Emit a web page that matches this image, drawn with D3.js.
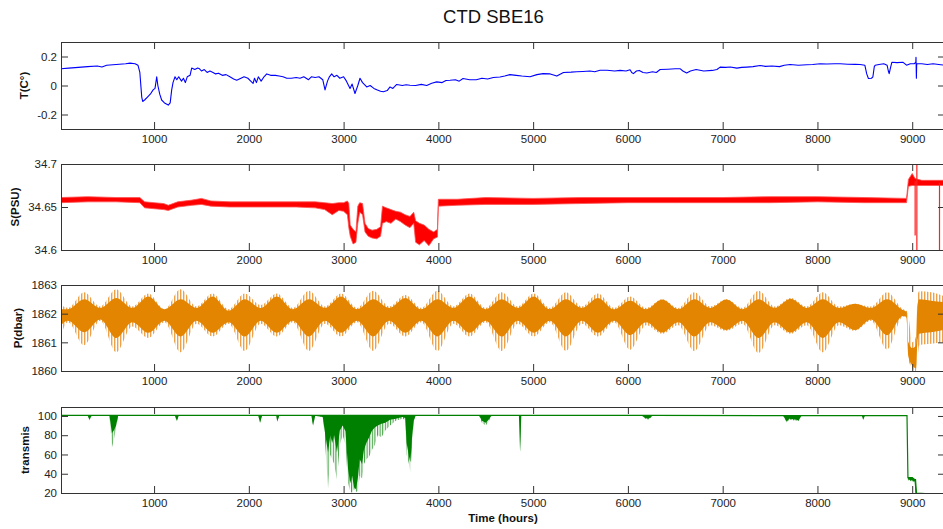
<!DOCTYPE html>
<html><head><meta charset="utf-8">
<script src="https://cdn.jsdelivr.net/npm/d3@7"></script>
<style>
body{margin:0;background:#fff}
svg{display:block}
text{font-family:"Liberation Sans",Arial,Helvetica,sans-serif}
</style>
</head><body>
<svg id="chart" width="943" height="529"></svg>
<script>
// ---------------- DATA ----------------
const chartTitle = "CTD SBE16";
const xLabel = "Time (hours)";
const panelLabels = ["T(C\u00B0)", "S(PSU)", "P(dbar)", "transmis"];
const xTicks = [1000, 2000, 3000, 4000, 5000, 6000, 7000, 8000, 9000];
const tempTicks = [-0.2, 0, 0.2];
const salTicks = [34.6, 34.65, 34.7];
const presTicks = [1860, 1861, 1862, 1863];
const transTicks = [20, 40, 60, 80, 100];

// Temperature (line)
const tempHours = [18,100,200,300,400,450,500,600,700,746,800,830,850,870,880,900,930,960,990,1010,1028,1040,1060,1080,1110,1150,1170,1186,1200,1221,1240,1260,1290,1310,1330,1350,1380,1397,1430,1460,1480,1500,1530,1560,1590,1622,1650,1680,1720,1760,1800,1840,1872,1900,1950,1990,2020,2045,2060,2080,2100,2130,2160,2189,2230,2280,2320,2361,2400,2450,2500,2540,2580,2630,2660,2700,2740,2780,2804,2830,2850,2874,2900,2930,2960,3000,3030,3068,3090,3120,3150,3173,3200,3244,3280,3320,3350,3390,3420,3460,3490,3520,3560,3620,3660,3700,3760,3820,3877,3930,3983,4040,4080,4124,4180,4220,4260,4330,4400,4460,4520,4580,4650,4700,4756,4820,4880,4967,5040,5105,5180,5250,5320,5400,5460,5525,5600,5650,5706,5780,5860,5918,5980,6023,6040,6058,6090,6120,6160,6200,6260,6300,6340,6420,6500,6550,6580,6620,6660,6720,6800,6890,6940,6973,7030,7080,7150,7200,7255,7320,7395,7450,7520,7600,7650,7712,7800,7888,7950,8028,8100,8180,8240,8320,8400,8450,8500,8520,8538,8570,8585,8600,8609,8650,8700,8735,8748,8757,8770,8785,8840,8904,8940,8980,9020,9038,9040,9044,9047,9050,9100,9160,9220,9280,9346];
const tempValues = [0.115,0.12,0.125,0.13,0.135,0.128,0.14,0.145,0.15,0.154,0.15,0.14,0.09,-0.08,-0.11,-0.10,-0.08,-0.06,-0.03,-0.02,0.06,0.0,-0.06,-0.10,-0.12,-0.135,-0.12,-0.03,0.02,0.06,0.04,0.06,0.03,0.05,0.02,0.06,0.07,0.12,0.11,0.12,0.115,0.10,0.11,0.09,0.10,0.09,0.08,0.085,0.07,0.075,0.06,0.045,0.036,0.045,0.06,0.05,0.03,0.014,0.05,0.02,0.06,0.03,0.06,0.08,0.07,0.07,0.065,0.06,0.05,0.05,0.055,0.05,0.06,0.04,0.06,0.055,0.06,0.04,-0.03,0.03,0.06,0.08,0.06,0.07,0.05,0.06,0.03,-0.02,0.01,-0.055,0.0,0.05,0.02,-0.01,0.0,-0.02,-0.03,-0.04,-0.043,-0.035,-0.01,-0.02,0.007,0.0,0.005,0.002,0.0,0.008,0.0,0.015,0.025,0.02,0.035,0.036,0.04,0.03,0.048,0.04,0.04,0.05,0.045,0.055,0.059,0.065,0.075,0.07,0.065,0.06,0.075,0.082,0.08,0.065,0.09,0.092,0.095,0.097,0.1,0.095,0.105,0.105,0.1,0.104,0.1,0.109,0.09,0.082,0.1,0.104,0.09,0.086,0.095,0.09,0.11,0.112,0.115,0.116,0.1,0.086,0.1,0.11,0.1,0.104,0.11,0.127,0.125,0.128,0.12,0.125,0.127,0.13,0.138,0.132,0.135,0.13,0.14,0.145,0.14,0.143,0.145,0.15,0.148,0.15,0.15,0.147,0.146,0.145,0.14,0.08,0.048,0.05,0.06,0.13,0.14,0.145,0.15,0.14,0.1,0.082,0.12,0.16,0.158,0.16,0.14,0.15,0.15,0.16,0.195,0.05,0.14,0.15,0.15,0.145,0.15,0.145,0.14];

// Salinity (noise band: low / high)
const salHours = [18,300,600,850,900,1000,1100,1150,1250,1400,1500,1600,1800,2000,2200,2500,2700,2800,2880,2950,3000,3040,3055,3070,3100,3130,3150,3170,3200,3226,3260,3300,3350,3390,3410,3450,3500,3550,3600,3650,3700,3740,3760,3800,3850,3900,3950,3990,4000,4200,4500,5000,5500,6000,6500,7000,7500,8000,8500,8940,8960,9000,9030,9100,9300,9346];
const salLow  = [34.655,34.656,34.656,34.655,34.649,34.648,34.647,34.646,34.650,34.652,34.653,34.651,34.650,34.650,34.650,34.650,34.649,34.647,34.641,34.646,34.645,34.641,34.626,34.616,34.607,34.609,34.631,34.644,34.641,34.621,34.616,34.614,34.613,34.616,34.631,34.633,34.631,34.636,34.633,34.629,34.626,34.631,34.609,34.606,34.611,34.605,34.613,34.615,34.651,34.652,34.653,34.653,34.654,34.655,34.655,34.655,34.655,34.656,34.655,34.655,34.674,34.675,34.675,34.675,34.675,34.675];
const salHigh = [34.661,34.662,34.661,34.661,34.656,34.655,34.654,34.652,34.656,34.658,34.660,34.657,34.656,34.656,34.656,34.656,34.656,34.655,34.654,34.655,34.655,34.657,34.654,34.629,34.624,34.621,34.651,34.655,34.654,34.631,34.625,34.623,34.624,34.627,34.651,34.649,34.647,34.645,34.644,34.641,34.639,34.644,34.634,34.631,34.629,34.624,34.621,34.624,34.659,34.659,34.661,34.660,34.661,34.661,34.661,34.661,34.662,34.662,34.661,34.660,34.682,34.689,34.683,34.681,34.681,34.681];
const salSpikeHours = [9031, 9049, 9288];
const salSpikeLow = [34.617, 34.59, 34.59];
const salSpikeHigh = [34.680, 34.71, 34.678];

// Pressure (tidal envelope: outer extremes and dense core)
const presHours = [18,91,262,432,601,770,940,1110,1280,1448,1617,1786,1956,2125,2295,2464,2634,2803,2973,3142,3312,3481,3651,3820,3990,4159,4329,4498,4668,4837,5006,5176,5345,5515,5684,5854,6023,6192,6362,6531,6701,6870,7040,7209,7379,7548,7718,7887,8057,8226,8396,8565,8735,8904,8940,8960,9000,9040,9055,9074,9200,9346];
const presOuterHigh = [1862.30,1862.20,1862.75,1862.25,1862.85,1862.25,1862.70,1862.15,1862.85,1862.25,1862.70,1862.15,1862.70,1862.30,1862.70,1862.20,1862.80,1862.25,1862.70,1862.20,1862.80,1862.25,1862.65,1862.20,1862.80,1862.25,1862.70,1862.20,1862.75,1862.25,1862.70,1862.20,1862.75,1862.25,1862.70,1862.20,1862.60,1862.20,1862.50,1862.20,1862.75,1862.25,1862.50,1862.20,1862.80,1862.25,1862.55,1862.25,1862.75,1862.25,1862.35,1862.25,1862.75,1862.15,1862.10,1861.90,1861.00,1861.20,1862.60,1862.78,1862.75,1862.60];
const presOuterLow = [1861.25,1861.70,1860.90,1861.75,1860.65,1861.55,1861.15,1861.70,1860.65,1861.65,1861.20,1861.65,1860.70,1861.65,1861.20,1861.70,1860.70,1861.65,1861.20,1861.70,1860.70,1861.65,1861.20,1861.70,1860.70,1861.65,1861.20,1861.70,1860.70,1861.65,1861.20,1861.70,1860.70,1861.65,1861.20,1861.70,1860.74,1861.60,1861.30,1861.60,1860.70,1861.60,1861.40,1861.65,1860.63,1861.60,1861.30,1861.60,1860.65,1861.60,1861.40,1861.75,1860.75,1861.90,1861.85,1860.40,1860.10,1860.00,1860.40,1860.90,1860.95,1861.00];
const presCoreHigh = [1862.15,1862.15,1862.50,1862.20,1862.55,1862.20,1862.60,1862.15,1862.50,1862.20,1862.60,1862.10,1862.50,1862.20,1862.60,1862.15,1862.50,1862.20,1862.60,1862.15,1862.50,1862.20,1862.55,1862.15,1862.50,1862.20,1862.60,1862.15,1862.50,1862.20,1862.60,1862.15,1862.50,1862.20,1862.55,1862.15,1862.45,1862.15,1862.49,1862.15,1862.50,1862.20,1862.49,1862.15,1862.50,1862.20,1862.52,1862.20,1862.50,1862.20,1862.35,1862.20,1862.50,1862.12,1862.07,1861.00,1860.80,1860.90,1862.30,1862.50,1862.45,1862.40];
const presCoreLow = [1861.60,1861.75,1861.35,1861.80,1861.15,1861.70,1861.33,1861.75,1861.20,1861.75,1861.33,1861.70,1861.20,1861.75,1861.33,1861.75,1861.20,1861.75,1861.33,1861.75,1861.20,1861.75,1861.33,1861.75,1861.20,1861.75,1861.33,1861.75,1861.20,1861.75,1861.33,1861.75,1861.20,1861.75,1861.33,1861.75,1861.25,1861.70,1861.34,1861.70,1861.20,1861.70,1861.43,1861.75,1861.15,1861.70,1861.34,1861.70,1861.15,1861.70,1861.43,1861.80,1861.25,1861.92,1861.88,1860.50,1860.20,1860.10,1861.00,1861.30,1861.35,1861.45];

// Transmissometer (top of trace, dense low, extreme low)
const transHours = [18,300,320,340,530,555,575,600,620,1220,1240,1260,2100,2118,2140,2290,2300,2320,2660,2678,2700,2780,2800,2836,2860,2880,2900,2930,2960,2990,3020,3047,3070,3090,3110,3130,3150,3170,3195,3215,3240,3270,3300,3330,3360,3400,3440,3490,3550,3620,3650,3665,3690,3705,3720,3740,3760,4430,4460,4500,4530,4560,4850,4862,4875,6150,6180,6220,6260,7640,7677,7700,7780,7800,7830,8470,8482,8500,8945,8955,9000,9025,9035,9045,9346];
const transHigh = [100.6,100.6,100.6,100.6,100.6,100.6,100.6,100.6,100.6,100.6,100.6,100.6,100.6,100.6,100.6,100.6,100.6,100.6,100.6,100.6,100.6,100.6,100.6,100.6,100.6,100.6,100.6,100.6,100.6,100.6,100.6,100.6,100.6,100.6,100.6,100.6,100.6,100.6,100.6,100.6,100.6,100.6,100.6,100.6,100.6,100.6,100.6,100.6,100.6,100.6,100.6,100.6,100.6,100.6,100.6,100.6,100.6,100.6,100.6,100.6,100.6,100.6,100.6,100.6,100.6,100.6,100.6,100.6,100.6,100.4,100.4,100.4,100.4,100.4,100.4,100.3,100.3,100.3,100.3,36,36,34,34,20,18];
const transLow = [100.2,100.2,96,100.2,100.2,82,85,90,100.2,100.2,95,100.2,100.2,93,100.2,100.2,94,100.2,100.2,90,100.2,99,85,62,80,72,80,62,85,90,84,45,30,38,26,24,35,55,50,65,72,78,85,88,90,92,93,96,97,99,98,72,58,52,75,95,100.2,100.2,95,93,96,100.2,100.2,63,100.2,100.2,98,97,100.2,100.0,94,97,96,95,100.0,99.9,96,99.9,99.9,34,33,32,20,18,17];
const transLowExtreme = [100.2,100.2,95,100.2,100.2,67,75,88,100.2,100.2,94,100.2,100.2,93,100.2,100.2,94,100.2,100.2,90,100.2,99,80,25,60,55,50,34,70,80,70,30,22,20,25,21,22,38,35,50,55,58,65,70,80,78,85,90,95,97,96,60,50,41,65,95,100.2,100.2,93,90,94,100.2,100.2,63,100.2,100.2,97,96,100.2,100.0,93,96,95,95,100.0,99.9,96,99.9,99.9,33,32,31,18,17,17];

// ---------------- LAYOUT / STYLE ----------------
const svg = d3.select("#chart");
const plotLeft = 61, plotRight = 945;
const panels = [
  {top: 42, bottom: 129, domain: [-0.3, 0.3], ticks: tempTicks, labelX: 23.5},
  {top: 164, bottom: 250, domain: [34.6, 34.7], ticks: salTicks, labelX: 14.5},
  {top: 285, bottom: 371, domain: [1860, 1863], ticks: presTicks, labelX: 18},
  {top: 407, bottom: 493, domain: [20, 109.3], ticks: transTicks, labelX: 25}
];
const axisColor = "#333";
const textColor = "#222";
const x = d3.scaleLinear().domain([18, 9346]).range([plotLeft, plotRight]);

// stripe textures (imitate dense thin vertical traces)
const defs = svg.append("defs");
function stripes(id, color, w, period) {
  const pat = defs.append("pattern").attr("id", id).attr("patternUnits", "userSpaceOnUse")
    .attr("width", period).attr("height", 10);
  pat.append("rect").attr("width", period).attr("height", 10).attr("fill", "#fff").attr("fill-opacity", 0);
  pat.append("rect").attr("width", w).attr("height", 10).attr("fill", color);
}
stripes("presStripes", "#eda24a", 1.4, 3);
stripes("transStripes", "#3f9f3f", 1.1, 2.6);

svg.append("text").attr("x", 493.5).attr("y", 17).attr("dy", "0.35em")
  .attr("text-anchor", "middle").attr("font-size", 18.5).attr("fill", "#111").text(chartTitle);

panels.forEach((p, i) => {
  p.y = d3.scaleLinear().domain(p.domain).range([p.bottom, p.top]);
  const g = svg.append("g");
  const cid = "clip" + i;
  svg.append("clipPath").attr("id", cid).append("rect")
    .attr("x", plotLeft).attr("y", p.top).attr("width", plotRight - plotLeft).attr("height", p.bottom - p.top);
  p.plot = g.append("g").attr("clip-path", `url(#${cid})`);
  p.g = g;
});

// Temperature
{
  const p = panels[0];
  const line = d3.line().x((d, i) => x(tempHours[i])).y(d => p.y(d));
  p.plot.append("path").datum(tempValues).attr("d", line)
    .attr("fill", "none").attr("stroke", "#0000ff").attr("stroke-width", 1.1).attr("stroke-linejoin", "round");
}
// Salinity
{
  const p = panels[1];
  const area = d3.area().x((d, i) => x(salHours[i])).y0((d, i) => p.y(salLow[i])).y1((d, i) => p.y(salHigh[i]));
  p.plot.append("path").datum(salHours).attr("d", area)
    .attr("fill", "#ff0000").attr("stroke", "#ff5050").attr("stroke-width", 0.8);
  p.plot.selectAll("line.spk").data(salSpikeHours).join("line")
    .attr("x1", d => x(d)).attr("x2", d => x(d))
    .attr("y1", (d, i) => p.y(salSpikeLow[i])).attr("y2", (d, i) => p.y(salSpikeHigh[i]))
    .attr("stroke", "#ff2020").attr("stroke-width", 1.2);
}
// Pressure
{
  const p = panels[2];
  const outer = d3.area().curve(d3.curveMonotoneX).x((d, i) => x(presHours[i]))
    .y0((d, i) => p.y(presOuterLow[i])).y1((d, i) => p.y(presOuterHigh[i]));
  const core = d3.area().curve(d3.curveMonotoneX).x((d, i) => x(presHours[i]))
    .y0((d, i) => p.y(presCoreLow[i])).y1((d, i) => p.y(presCoreHigh[i]));
  p.plot.append("path").datum(presHours).attr("d", outer).attr("fill", "url(#presStripes)");
  p.plot.append("path").datum(presHours).attr("d", core).attr("fill", "#e38500");
}
// Transmissometer
{
  const p = panels[3];
  const outer = d3.area().x((d, i) => x(transHours[i]))
    .y0((d, i) => p.y(transLowExtreme[i])).y1((d, i) => p.y(transHigh[i]));
  const core = d3.area().x((d, i) => x(transHours[i]))
    .y0((d, i) => p.y(transLow[i])).y1((d, i) => p.y(transHigh[i]));
  p.plot.append("path").datum(transHours).attr("d", outer).attr("fill", "url(#transStripes)");
  p.plot.append("path").datum(transHours).attr("d", core).attr("fill", "#008000");
  const line = d3.line().x((d, i) => x(transHours[i])).y((d, i) => p.y(transHigh[i]));
  p.plot.append("path").datum(transHours).attr("d", line).attr("fill", "none").attr("stroke", "#008000").attr("stroke-width", 1.2);
}

// Axes, box and labels
const fmt = d => String(d);
panels.forEach((p, i) => {
  const g = p.g;
  const styleAxis = sel => {
    sel.select(".domain").remove();
    sel.selectAll(".tick line").attr("stroke", axisColor);
    sel.selectAll(".tick text").attr("fill", textColor).attr("font-size", 11.5)
      .attr("font-family", '"Liberation Sans",Arial,sans-serif');
  };
  g.append("g").attr("transform", `translate(0,${p.bottom})`)
    .call(d3.axisBottom(x).tickValues(xTicks).tickFormat(fmt).tickSize(-7).tickPadding(6)).call(styleAxis);
  g.append("g").attr("transform", `translate(0,${p.top})`)
    .call(d3.axisTop(x).tickValues(xTicks).tickFormat("").tickSize(-7)).call(styleAxis);
  g.append("g").attr("transform", `translate(${plotLeft},0)`)
    .call(d3.axisLeft(p.y).tickValues(p.ticks).tickFormat(fmt).tickSize(-7).tickPadding(4)).call(styleAxis);
  g.append("g").attr("transform", `translate(${plotRight},0)`)
    .call(d3.axisRight(p.y).tickValues(p.ticks).tickFormat("").tickSize(-7)).call(styleAxis);
  g.append("rect").attr("x", plotLeft + 0.5).attr("y", p.top + 0.5)
    .attr("width", plotRight - plotLeft).attr("height", p.bottom - p.top)
    .attr("fill", "none").attr("stroke", axisColor).attr("stroke-width", 1);
  g.append("text").attr("transform", `translate(${p.labelX},${(p.top + p.bottom) / 2}) rotate(-90)`)
    .attr("dy", "0.35em").attr("text-anchor", "middle").attr("font-size", 11.5).attr("font-weight", "bold")
    .attr("fill", "#111").text(panelLabels[i]);
});

svg.append("text").attr("x", 503).attr("y", 518).attr("dy", "0.35em").attr("text-anchor", "middle")
  .attr("font-size", 11.5).attr("font-weight", "bold").attr("fill", "#111").text(xLabel);
</script>
</body></html>
